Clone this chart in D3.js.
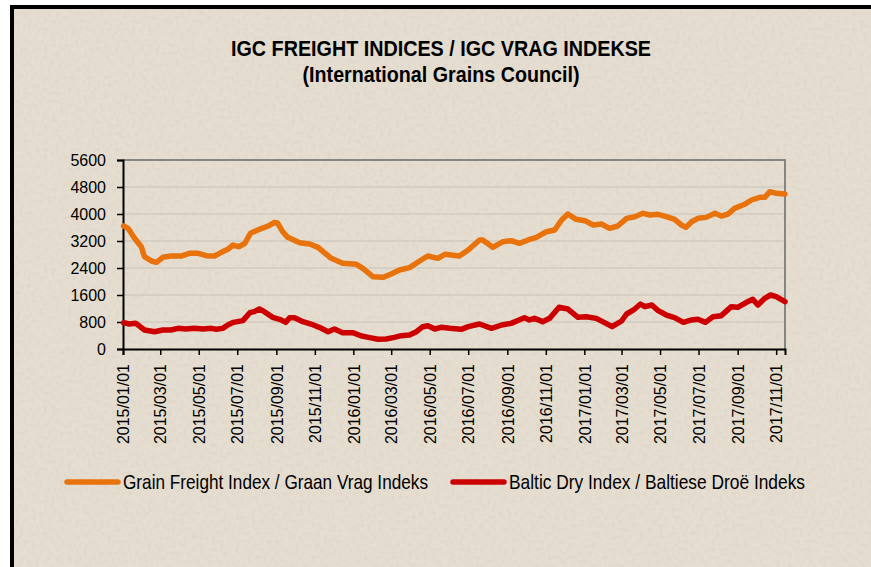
<!DOCTYPE html>
<html>
<head>
<meta charset="utf-8">
<script src="https://cdn.jsdelivr.net/npm/d3@7"></script>
<style>
  body { margin: 0; background: #fff; }
  svg { display: block; }
  .lbl { font-family: "Liberation Sans", Arial, sans-serif; fill: #000; }
  .tick text { font-family: "Liberation Sans", Arial, sans-serif; font-size: 16px; fill: #000; }
</style>
</head>
<body>
<script>
// weekly readings
const gfiDates = ["2015-01-02","2015-01-09","2015-01-19","2015-01-30","2015-02-04","2015-02-15","2015-02-23","2015-03-05","2015-03-18","2015-04-03","2015-04-16","2015-04-30","2015-05-13","2015-05-26","2015-06-03","2015-06-16","2015-06-24","2015-07-04","2015-07-13","2015-07-22","2015-08-05","2015-08-19","2015-08-29","2015-09-03","2015-09-11","2015-09-19","2015-10-08","2015-10-24","2015-11-06","2015-11-16","2015-11-27","2015-12-15","2016-01-06","2016-01-16","2016-02-01","2016-02-17","2016-03-01","2016-03-14","2016-03-30","2016-04-15","2016-04-28","2016-05-14","2016-05-25","2016-06-17","2016-07-01","2016-07-19","2016-07-24","2016-08-09","2016-08-25","2016-09-07","2016-09-20","2016-10-04","2016-10-17","2016-11-02","2016-11-15","2016-11-26","2016-12-06","2016-12-19","2017-01-02","2017-01-15","2017-01-28","2017-02-10","2017-02-23","2017-03-09","2017-03-22","2017-04-04","2017-04-15","2017-04-28","2017-05-11","2017-05-24","2017-06-04","2017-06-11","2017-06-20","2017-06-30","2017-07-13","2017-07-27","2017-08-06","2017-08-17","2017-08-27","2017-09-12","2017-09-23","2017-10-06","2017-10-14","2017-10-22","2017-11-01","2017-11-15"];
const gfiValues = [3645,3575,3290,3030,2735,2607,2568,2716,2755,2755,2835,2835,2765,2755,2835,2953,3080,3030,3130,3427,3545,3644,3753,3733,3476,3308,3150,3110,3012,2854,2687,2538,2509,2390,2143,2123,2222,2340,2410,2607,2755,2687,2805,2755,2933,3230,3230,3012,3180,3210,3130,3230,3308,3476,3526,3822,4000,3842,3802,3674,3704,3575,3644,3871,3920,4020,3970,3990,3920,3842,3674,3605,3772,3871,3900,4020,3940,4000,4168,4287,4415,4495,4495,4661,4613,4593];

const bdiDates = ["2015-01-02","2015-01-11","2015-01-21","2015-01-27","2015-02-04","2015-02-20","2015-03-05","2015-03-18","2015-03-29","2015-04-11","2015-04-24","2015-05-08","2015-05-21","2015-05-29","2015-06-08","2015-06-16","2015-06-25","2015-07-10","2015-07-21","2015-07-28","2015-08-05","2015-08-13","2015-08-26","2015-09-06","2015-09-16","2015-09-22","2015-09-30","2015-10-13","2015-10-26","2015-11-08","2015-11-22","2015-12-02","2015-12-15","2015-12-31","2016-01-14","2016-01-27","2016-02-09","2016-02-22","2016-03-06","2016-03-17","2016-03-30","2016-04-10","2016-04-20","2016-04-28","2016-05-09","2016-05-19","2016-06-02","2016-06-20","2016-07-01","2016-07-19","2016-08-07","2016-08-23","2016-09-07","2016-09-28","2016-10-06","2016-10-14","2016-10-27","2016-11-07","2016-11-22","2016-12-06","2016-12-22","2017-01-04","2017-01-20","2017-02-02","2017-02-14","2017-03-01","2017-03-09","2017-03-20","2017-03-31","2017-04-07","2017-04-18","2017-04-28","2017-05-11","2017-05-24","2017-06-07","2017-06-20","2017-06-30","2017-07-12","2017-07-24","2017-08-06","2017-08-22","2017-09-01","2017-09-15","2017-09-25","2017-10-03","2017-10-14","2017-10-23","2017-11-01","2017-11-15"];
const bdiValues = [780,740,760,680,563,513,563,563,612,590,612,590,612,583,612,711,790,840,1076,1106,1185,1106,939,880,790,928,928,810,740,642,513,592,484,484,385,336,287,296,346,395,415,513,661,691,592,642,612,583,661,740,612,711,760,928,860,908,810,908,1235,1185,939,958,908,780,661,830,1037,1156,1333,1254,1304,1136,1007,928,790,860,880,790,958,988,1254,1235,1383,1472,1304,1502,1600,1550,1402];

const yTicks = [0,800,1600,2400,3200,4000,4800,5600];
const xTickLabels = ["2015/01/01","2015/03/01","2015/05/01","2015/07/01","2015/09/01","2015/11/01","2016/01/01","2016/03/01","2016/05/01","2016/07/01","2016/09/01","2016/11/01","2017/01/01","2017/03/01","2017/05/01","2017/07/01","2017/09/01","2017/11/01"];
const seriesNames = ["Grain Freight Index / Graan Vrag Indeks","Baltic Dry Index / Baltiese Droë Indeks"];
const seriesColors = ["#e8720c","#cc0000"];

const width = 871, height = 567;
const plotL = 123, plotR = 785, plotT = 160, plotB = 349;

const parse = d3.timeParse("%Y-%m-%d");
const parseTick = d3.timeParse("%Y/%m/%d");
const gfi = gfiDates.map((d,i)=>({date:parse(d), v:gfiValues[i]}));
const bdi = bdiDates.map((d,i)=>({date:parse(d), v:bdiValues[i]}));

const svg = d3.select("body").append("svg")
  .attr("width", width).attr("height", height);

// paper texture
const defs = svg.append("defs");
const f = defs.append("filter").attr("id","grain").attr("x",0).attr("y",0).attr("width","100%").attr("height","100%");
f.append("feTurbulence").attr("type","fractalNoise").attr("baseFrequency",0.25).attr("numOctaves",1).attr("seed",3);
f.append("feColorMatrix").attr("type","matrix")
  .attr("values","0 0 0 0 0.45  0 0 0 0 0.40  0 0 0 0 0.33  0 0 0 -0.9 0.5");

svg.append("rect").attr("x",12).attr("y",7).attr("width",900).attr("height",600)
  .attr("fill","#e5ddd0");
svg.append("rect").attr("x",12).attr("y",7).attr("width",900).attr("height",600)
  .attr("filter","url(#grain)").attr("opacity",0.35);
svg.append("rect").attr("x",12).attr("y",7).attr("width",900).attr("height",600)
  .attr("fill","none").attr("stroke","#000").attr("stroke-width",4);

svg.append("text").attr("class","lbl")
  .attr("x",441).attr("y",56).attr("text-anchor","middle")
  .attr("font-size",22).attr("font-weight","bold")
  .attr("textLength",420).attr("lengthAdjust","spacingAndGlyphs")
  .text("IGC FREIGHT INDICES / IGC VRAG INDEKSE");
svg.append("text").attr("class","lbl")
  .attr("x",441).attr("y",82).attr("text-anchor","middle")
  .attr("font-size",22).attr("font-weight","bold")
  .attr("textLength",277).attr("lengthAdjust","spacingAndGlyphs")
  .text("(International Grains Council)");

const x = d3.scaleTime()
  .domain([parse("2015-01-01"), parse("2017-11-15")])
  .range([plotL, plotR]);
const y = d3.scaleLinear().domain([0,5600]).range([plotB, plotT]);

// gridlines
svg.append("g").selectAll("line").data(yTicks.slice(1)).join("line")
  .attr("x1",plotL).attr("x2",plotR)
  .attr("y1",d=>y(d)).attr("y2",d=>y(d))
  .attr("stroke","#c6c2ba").attr("stroke-width",1);

// plot frame top/right
svg.append("path")
  .attr("d",`M${plotL},${plotT}H${plotR}V${plotB}`)
  .attr("fill","none").attr("stroke","#858585").attr("stroke-width",2);

const yAxis = d3.axisLeft(y).tickValues(yTicks).tickSize(6).tickPadding(11).tickFormat(d3.format("d"));
svg.append("g").attr("transform",`translate(${plotL},0)`).call(yAxis)
  .call(g=>g.select(".domain").attr("stroke","#000").attr("stroke-width",2))
  .call(g=>g.selectAll(".tick line").attr("stroke","#000").attr("stroke-width",1.5));

const xAxis = d3.axisBottom(x).tickValues(xTickLabels.map(parseTick)).tickSize(6)
  .tickFormat(d3.timeFormat("%Y/%m/%d"));
svg.append("g").attr("transform",`translate(0,${plotB})`).call(xAxis)
  .call(g=>g.select(".domain").attr("stroke","#000").attr("stroke-width",2))
  .call(g=>g.selectAll(".tick line").attr("stroke","#000").attr("stroke-width",1.5))
  .call(g=>g.selectAll(".tick text")
    .attr("transform","rotate(-90)")
    .attr("text-anchor","end")
    .attr("x",-15).attr("y",0).attr("dy","0.36em"));

const line = d3.line().x(d=>x(d.date)).y(d=>y(d.v)).curve(d3.curveLinear);

[gfi, bdi].forEach((s,i)=>{
  svg.append("path").datum(s)
    .attr("d",line)
    .attr("fill","none")
    .attr("stroke",seriesColors[i])
    .attr("stroke-width",5.5)
    .attr("stroke-linejoin","round")
    .attr("stroke-linecap","round");
});

// legend
const legendX = [67, 453];
const legendW = [305, 296];
const lg = svg.append("g");
seriesNames.forEach((n,i)=>{
  lg.append("line").attr("x1",legendX[i]).attr("x2",legendX[i]+51)
    .attr("y1",482).attr("y2",482)
    .attr("stroke",seriesColors[i]).attr("stroke-width",5.5).attr("stroke-linecap","round");
  lg.append("text").attr("class","lbl")
    .attr("x",legendX[i]+56).attr("y",489)
    .attr("font-size",21)
    .attr("textLength",legendW[i]).attr("lengthAdjust","spacingAndGlyphs")
    .text(n);
});
</script>
</body>
</html>
